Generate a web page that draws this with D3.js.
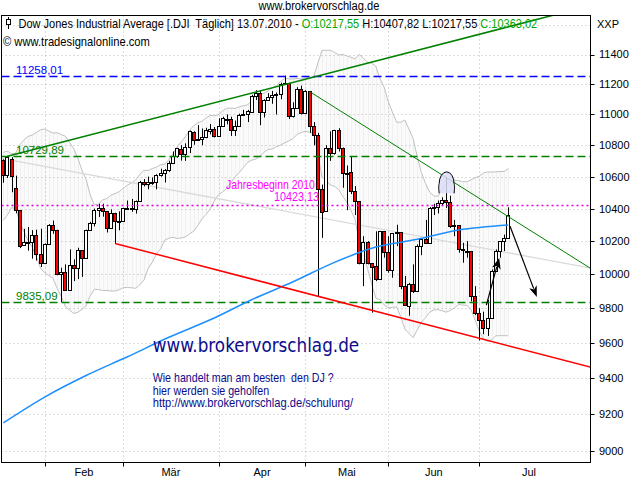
<!DOCTYPE html>
<html><head><meta charset="utf-8">
<script src="https://cdn.jsdelivr.net/npm/d3@7"></script>
<style>
html,body{margin:0;padding:0;background:#fff;}
svg{display:block;font-family:"Liberation Sans",Arial,sans-serif;}
text{white-space:pre;}
</style></head><body>
<svg id="c" width="640" height="480"></svg>
<script>
// ---------------- DATA ----------------
const dates = [
"2010-01-15","2010-01-19","2010-01-20","2010-01-21","2010-01-22","2010-01-25","2010-01-26","2010-01-27","2010-01-28","2010-01-29",
"2010-02-01","2010-02-02","2010-02-03","2010-02-04","2010-02-05","2010-02-08","2010-02-09","2010-02-10","2010-02-11","2010-02-12",
"2010-02-16","2010-02-17","2010-02-18","2010-02-19","2010-02-22","2010-02-23","2010-02-24","2010-02-25","2010-02-26",
"2010-03-01","2010-03-02","2010-03-03","2010-03-04","2010-03-05","2010-03-08","2010-03-09","2010-03-10","2010-03-11","2010-03-12",
"2010-03-15","2010-03-16","2010-03-17","2010-03-18","2010-03-19","2010-03-22","2010-03-23","2010-03-24","2010-03-25","2010-03-26",
"2010-03-29","2010-03-30","2010-03-31",
"2010-04-01","2010-04-05","2010-04-06","2010-04-07","2010-04-08","2010-04-09","2010-04-12","2010-04-13","2010-04-14","2010-04-15",
"2010-04-16","2010-04-19","2010-04-20","2010-04-21","2010-04-22","2010-04-23","2010-04-26","2010-04-27","2010-04-28","2010-04-29","2010-04-30",
"2010-05-03","2010-05-04","2010-05-05","2010-05-06","2010-05-07","2010-05-10","2010-05-11","2010-05-12","2010-05-13","2010-05-14",
"2010-05-17","2010-05-18","2010-05-19","2010-05-20","2010-05-21","2010-05-24","2010-05-25","2010-05-26","2010-05-27","2010-05-28",
"2010-06-01","2010-06-02","2010-06-03","2010-06-04","2010-06-07","2010-06-08","2010-06-09","2010-06-10","2010-06-11",
"2010-06-14","2010-06-15","2010-06-16","2010-06-17","2010-06-18","2010-06-21","2010-06-22","2010-06-23","2010-06-24","2010-06-25",
"2010-06-28","2010-06-29","2010-06-30",
"2010-07-01","2010-07-02","2010-07-06","2010-07-07","2010-07-08","2010-07-09","2010-07-12","2010-07-13"];

const openV = [10706.99,10608.37,10713,10530,10389.58,10175.1,10195.8,10194,10235,10120,
10068,10185,10296,10270,10002,10012,9908,10058,10038,10144,
10099,10268,10309,10393,10402,10383,10282,10374,10321,
10325,10403,10406,10396,10444,10566,10552,10564,10567,10611,
10624,10642,10686,10733,10779,10742,10786,10888,10836,10841,
10850,10895,10907,
10857,10927,10973,10970,10897,10927,10997,11005,11019,11123,
11144,11018,11092,11117,11125,11134,11204,11205,10992,11045,11167,
11009,11152,10926,10868,10520,10386,10785,10748,10897,10783,
10620,10626,10511,10444,10068,10193,10067,10050,9974,10259,
10136,10024,10249,10255,9932,9816,9940,9899,10172,
10211,10191,10404,10409,10434,10451,10442,10293,10298,10152,
10143,10138,9870,
9773,9732,9686,9743,10018,10138,10198,10217.55];

const highV = [10709.94,10729.89,10723.77,10606,10389.58,10275.35,10286.25,10267,10270,10276,
10186,10304,10326,10270,10040,10060,10150,10090,10160,10144,
10270,10318,10400,10430,10430,10385,10395,10374,10383,
10405,10450,10460,10450,10573,10584,10600,10595,10615,10650,
10648,10700,10760,10783,10800,10812,10895,10890,10930,10908,
10913,10937,10918,
10975,10985,11000,10985,10960,11005,11030,11030,11130,11160,
11155,11100,11140,11155,11145,11210,11258.01,11210,11080,11180,11190,
11160,11152,10950,10880,10550,10800,10890,10900,10910,10785,
10670,10730,10540,10444,10230,10200,10067,10260,10260,10260,
10230,10250,10300,10255,9990,9950,10060,10180,10215,
10330,10410,10430,10450,10470,10594.16,10480,10330,10298,10190,
10200,10138,9930,
9800,9780,9850,10030,10150,10200,10240,10407.82];

const lowV = [10561.43,10591.01,10501.64,10371,10157.64,10171,10142.5,10094,10083,10044,
10067,10185,10245,9995,9835.09,9903,9908,9960,9972,9985,
10099,10268,10290,10348,10350,10253,10282,10186,10266,
10325,10396,10380,10369,10444,10538,10520,10548,10520,10600,
10563,10630,10685,10720,10701,10700,10750,10803,10830,10800,
10845,10870,10850,
10857,10920,10935,10860,10860,10925,10995,10950,11018,11095,
10930,10980,11090,11070,11000,11100,11196,10970,10980,11045,11000,
11009,10880,10800,9869.62,10220,10386,10700,10740,10760,10530,
10390,10490,10360,10060,9930,10060,9774.48,9960,9974,10100,
10010,9980,10170,9912,9815,9757,9890,9899,10115,
10190,10191,10360,10370,10420,10404,10280,10230,10130,10070,
10100,9840,9760,
9614.32,9650,9640,9743,10018,10100,10140,10217.55];

const closeV = [10609.65,10725.43,10603.15,10389.88,10172.98,10196.86,10194.29,10236.16,10120.46,10067.33,
10185.53,10296.85,10270.55,10002.18,10012.23,9908.39,10058.64,10038.38,10144.19,10099.14,
10268.81,10309.24,10392.90,10402.35,10383.38,10282.41,10374.16,10321.03,10325.26,
10403.79,10405.98,10396.76,10444.14,10566.20,10552.52,10564.38,10567.33,10611.84,10624.69,
10642.15,10685.98,10733.67,10779.17,10741.98,10785.89,10888.83,10836.15,10841.21,10850.36,
10895.86,10907.42,10856.63,
10927.07,10973.55,10969.99,10897.52,10927.07,10997.35,11005.97,11019.42,11123.11,11144.57,
11018.66,11092.05,11117.06,11124.92,11134.29,11204.28,11205.03,10991.99,11045.27,11167.32,11008.61,
11151.83,10926.77,10868.12,10520.32,10380.43,10785.14,10748.26,10896.91,10782.95,10620.16,
10625.83,10510.95,10444.37,10068.01,10193.39,10066.57,10043.75,9974.45,10258.99,10136.63,
10024.02,10249.54,10255.28,9931.97,9816.49,9939.98,9899.25,10172.53,10211.07,
10190.89,10404.77,10409.46,10434.17,10450.64,10442.41,10293.52,10298.44,10152.80,10143.81,
10138.52,9870.30,9774.02,
9732.53,9686.48,9743.62,10018.28,10138.99,10198.03,10216.27,10363.02];

// closes before the first visible bar (needed for the Bollinger bands)
const priorCloses = [10441.12,10308.26,10328.89,10414.14,10464.93,10466.44,10520.10,10547.08,10545.41,10548.51,
10428.05,10583.96,10572.02,10573.68,10606.86,10618.19,10663.99,10627.26,10680.77,10710.55];

// long moving average (blue)
const maIdx = [0,10,20,30,40,50,60,70,80,90,100,110,122];
const maVal = [9153,9295,9415,9521,9632,9733,9850,9956,10072,10164,10211,10268,10299];

const yTickValues = [9000,9200,9400,9600,9800,10000,10200,10400,10600,10800,11000,11200,11400];
const yGridValues = [9000,9200,9400,9600,9800,10000,10200,10400,10600,10800,11000,11200,11400,11600];
const monthNames = ["Jan","Feb","Mär","Apr","Mai","Jun","Jul"];

const levelValues = [11258.01, 10729.89, 9835.09];
const levelLabels = ["11258,01", "10729,89", "9835,09"];
const levelColors = ["#0000ff", "#008000", "#008000"];
const yearStartValue = 10423.13;

// trend lines: [index, value] anchors
const trendUp      = [[1, 10729.89], [91, 11363]];
const trendDown    = [[74, 11151], [139.3, 10076]];
const trendSupport = [[27, 10186], [141.75, 9463]];
const trendGray    = [[0, 10714], [141.75, 10038]];
const arrowDownPts = [[122.4, 10293], [128.9, 9866]];
const arrowUpPts   = [[116.7, 9819], [119.8, 10098]];
const domeIdx = [105.3, 108.9];
const domeVal = [10630, 10495];

// ---------------- CHART ----------------
const svg = d3.select("#c");
const frame = {l: 1.5, t: 15.5, r: 590.5, b: 462.5};
const x = d3.scaleLinear().domain([0, dates.length - 1]).range([3.3, 508.3]);
const y = d3.scaleLog().domain([9000, 11400]).range([451.2, 54.5]);
const n = dates.length;

svg.append("defs").append("clipPath").attr("id", "plotclip")
  .append("rect").attr("x", frame.l).attr("y", frame.t)
  .attr("width", frame.r - frame.l).attr("height", frame.b - frame.t);
const plot = svg.append("g").attr("clip-path", "url(#plotclip)");

// month boundaries
const monthOf = d => +d.slice(5, 7);
const monthTicks = [];
for (let i = 1; i < n; i++) if (monthOf(dates[i]) !== monthOf(dates[i - 1])) monthTicks.push(i);

// Bollinger bands (20, 2)
const allCloses = priorCloses.concat(closeV);
const P = priorCloses.length;
const bands = d3.range(n).map(i => {
  const w = allCloses.slice(i + P - 19, i + P + 1);
  const m = d3.mean(w);
  const sd = Math.sqrt(d3.mean(w, v => (v - m) * (v - m)));
  return {i, up: m + 2 * sd, lo: m - 2 * sd};
});
plot.append("path").datum(bands)
  .attr("fill", "#fafafa")
  .attr("d", d3.area().x(d => x(d.i)).y0(d => y(d.lo)).y1(d => y(d.up)));
plot.append("g").selectAll("line").data(bands).join("line")
  .attr("x1", d => Math.round(x(d.i)) + 0.5).attr("x2", d => Math.round(x(d.i)) + 0.5)
  .attr("y1", d => y(d.lo)).attr("y2", d => y(d.up))
  .attr("stroke", "#f0f0f0").attr("stroke-width", 1);

// grid
const grid = plot.append("g").attr("stroke", "#b8b8b8").attr("stroke-dasharray", "1,3").attr("stroke-width", 1);
grid.selectAll("line.h").data(yGridValues).join("line")
  .attr("x1", frame.l).attr("x2", frame.r)
  .attr("y1", d => Math.round(y(d)) + 0.5).attr("y2", d => Math.round(y(d)) + 0.5);
grid.selectAll("line.v").data(monthTicks).join("line")
  .attr("y1", frame.t).attr("y2", frame.b)
  .attr("x1", d => Math.round(x(d)) + 0.5).attr("x2", d => Math.round(x(d)) + 0.5);

["up", "lo"].forEach(k => plot.append("path").datum(bands)
  .attr("fill", "none").attr("stroke", "#c0c0c0").attr("stroke-width", 1)
  .attr("d", d3.line().x(d => x(d.i)).y(d => y(d[k]))));

// helper: line through two anchors, extended
function extLine(anchors, extendLeft) {
  const [a, b] = anchors;
  const p1 = [x(a[0]), y(a[1])], p2 = [x(b[0]), y(b[1])];
  const s = (p2[1] - p1[1]) / (p2[0] - p1[0]);
  const xs = extendLeft ? frame.l : p1[0];
  const xe = frame.r + 5;
  return [[xs, p1[1] + s * (xs - p1[0])], [xe, p1[1] + s * (xe - p1[0])]];
}
const lineGen = d3.line();

// gray trend line
plot.append("path").attr("d", lineGen(extLine(trendGray, true)))
  .attr("stroke", "#dadada").attr("stroke-width", 1.3).attr("fill", "none");

// candles
const cg = plot.append("g");
const idx = d3.range(n);
cg.selectAll("line.w").data(idx).join("line")
  .attr("x1", i => Math.round(x(i)) + 0.5).attr("x2", i => Math.round(x(i)) + 0.5)
  .attr("y1", i => y(highV[i])).attr("y2", i => y(lowV[i]))
  .attr("stroke", "#000").attr("stroke-width", 1);
cg.selectAll("rect").data(idx).join("rect")
  .attr("x", i => Math.round(x(i)) - 1.5).attr("width", 3)
  .attr("y", i => Math.round(y(Math.max(openV[i], closeV[i]))) + 0.5)
  .attr("height", i => Math.max(1, Math.round(y(Math.min(openV[i], closeV[i]))) - Math.round(y(Math.max(openV[i], closeV[i])))))
  .attr("fill", i => closeV[i] >= openV[i] ? "#ffffff" : "#ff0000")
  .attr("stroke", "#000").attr("stroke-width", 1);

// horizontal level lines
levelValues.forEach((v, k) => {
  plot.append("line").attr("x1", frame.l).attr("x2", frame.r)
    .attr("y1", Math.round(y(v)) + 0.5).attr("y2", Math.round(y(v)) + 0.5)
    .attr("stroke", levelColors[k]).attr("stroke-width", 1.5).attr("stroke-dasharray", "8,4");
});
plot.append("line").attr("x1", frame.l).attr("x2", frame.r)
  .attr("y1", Math.round(y(yearStartValue)) + 0.5).attr("y2", Math.round(y(yearStartValue)) + 0.5)
  .attr("stroke", "#e000e0").attr("stroke-width", 1.3).attr("stroke-dasharray", "2,3");

// blue moving average
plot.append("path").datum(maIdx.map((d, k) => [x(d), y(maVal[k])]))
  .attr("fill", "none").attr("stroke", "#1e8fff").attr("stroke-width", 1.5)
  .attr("d", d3.line().curve(d3.curveMonotoneX));

// trend lines
plot.append("path").attr("d", lineGen(extLine(trendUp, false)))
  .attr("stroke", "#008000").attr("stroke-width", 1.5).attr("fill", "none");
plot.append("path").attr("d", lineGen(extLine(trendDown, false)))
  .attr("stroke", "#008000").attr("stroke-width", 1).attr("fill", "none");
plot.append("path").attr("d", lineGen(extLine(trendSupport, false)))
  .attr("stroke", "#ff0000").attr("stroke-width", 1.5).attr("fill", "none");

// dome marker
{
  const x0 = x(domeIdx[0]), x1 = x(domeIdx[1]);
  const yT = y(domeVal[0]), yB = y(domeVal[1]);
  const rx = (x1 - x0) / 2, ry = (yB - yT) * 0.55;
  const cy = yT + ry;
  plot.append("path")
    .attr("d", `M${x0},${yB} C${x0 - 1},${cy + 2} ${x0},${cy} ${x0},${cy} A${rx},${ry} 0 0 1 ${x1},${cy} C${x1},${cy} ${x1 + 1},${cy + 2} ${x1},${yB}`)
    .attr("fill", "#dcdcf6").attr("fill-opacity", 0.85).attr("stroke", "#000").attr("stroke-width", 1);
}

// arrows
function arrow(pts, headLen, headW) {
  const p1 = [x(pts[0][0]), y(pts[0][1])], p2 = [x(pts[1][0]), y(pts[1][1])];
  const dx = p2[0] - p1[0], dy = p2[1] - p1[1], L = Math.hypot(dx, dy);
  const ux = dx / L, uy = dy / L;
  const bx = p2[0] - ux * headLen, by = p2[1] - uy * headLen;
  plot.append("line").attr("x1", p1[0]).attr("y1", p1[1]).attr("x2", bx + ux * 2).attr("y2", by + uy * 2)
    .attr("stroke", "#000").attr("stroke-width", 1.2);
  plot.append("path")
    .attr("d", `M${p2[0]},${p2[1]} L${bx - uy * headW},${by + ux * headW} L${bx + ux * 3},${by + uy * 3} L${bx + uy * headW},${by - ux * headW} Z`)
    .attr("fill", "#000");
}
arrow(arrowDownPts, 11, 4);
arrow(arrowUpPts, 11, 4.5);

// ---------------- TEXT ----------------
function fitText(str, px, py, width, opts = {}) {
  const g = svg.append("g");
  const t = g.append("text").attr("x", 0).attr("y", 0)
    .attr("font-size", opts.size || 11).attr("fill", opts.color || "#000")
    .attr("font-family", opts.family || null);
  if (Array.isArray(str)) {
    str.forEach(s => t.append("tspan").attr("fill", s.c).text(s.t));
  } else t.text(str);
  const w = t.node().getComputedTextLength();
  const sx = width / w;
  let ox = px;
  if (opts.anchor === "middle") ox = px - width / 2;
  if (opts.anchor === "end") ox = px - width;
  g.attr("transform", `translate(${ox},${py}) scale(${sx},1)`);
  return g;
}

// top title
fitText("www.brokervorschlag.de", 319, 10, 121, {anchor: "middle", size: 12});
// header
const hdrGreen = "#00a800";
fitText([
  {t: "Dow Jones Industrial Average [.DJI  Täglich] 13.07.2010 - ", c: "#000"},
  {t: "O:10217,55", c: hdrGreen},
  {t: " H:10407,82 L:10217,55 ", c: "#000"},
  {t: "C:10363,02", c: hdrGreen}
], 18.5, 27.5, 519.5, {size: 12});
fitText("© www.tradesignalonline.com", 3, 46, 147, {size: 12});
svg.append("text").attr("x", 597).attr("y", 27.5).attr("font-size", 11).text("XXP");

// candle icon
svg.append("line").attr("x1", 8.5).attr("x2", 8.5).attr("y1", 17).attr("y2", 29).attr("stroke", "#000");
svg.append("rect").attr("x", 6.5).attr("y", 19.5).attr("width", 4).attr("height", 5).attr("fill", "#fff").attr("stroke", "#000");

// level labels
levelValues.forEach((v, k) => {
  svg.append("text").attr("x", frame.l + 14.5).attr("y", y(v) - 2)
    .attr("font-size", 11.5).attr("fill", levelColors[k]).text(levelLabels[k]);
});
// year-start labels
fitText("Jahresbeginn 2010", x(53.8), y(yearStartValue) - 15.5, 89, {size: 12, color: "#ff00ff"});
fitText("10423,13", x(65.4), y(yearStartValue) - 3.5, 45, {size: 12, color: "#ff00ff"});

// promo texts
const navy = "#0c0c8c";
fitText("www.brokervorschlag.de", 152.7, 352, 206.6, {size: 20, color: navy, family: "DejaVu Sans, sans-serif"});
fitText("Wie handelt man am besten  den DJ ?", 152.7, 382, 181.3, {size: 12, color: navy});
fitText("hier werden sie geholfen", 152.7, 394.5, 116.6, {size: 12, color: navy});
fitText("http://www.brokervorschlag.de/schulung/", 152.7, 407, 200.6, {size: 12, color: navy});

// y axis
const ya = svg.append("g");
ya.selectAll("line").data(yTickValues).join("line")
  .attr("x1", frame.r).attr("x2", frame.r + 4)
  .attr("y1", d => Math.round(y(d)) + 0.5).attr("y2", d => Math.round(y(d)) + 0.5)
  .attr("stroke", "#000");
ya.selectAll("text").data(yTickValues).join("text")
  .attr("x", frame.r + 8.5).attr("y", d => y(d)).attr("dy", "0.36em")
  .attr("font-size", 11).text(d => d);

// x axis
const xa = svg.append("g");
xa.selectAll("line").data(monthTicks).join("line")
  .attr("x1", d => Math.round(x(d)) + 0.5).attr("x2", d => Math.round(x(d)) + 0.5)
  .attr("y1", frame.b).attr("y2", frame.b + 4).attr("stroke", "#000");
const labelPos = monthTicks.map((t, k) => k < monthTicks.length - 1 ? (x(t) + x(monthTicks[k + 1])) / 2 : x(t + 12));
xa.selectAll("text").data(monthTicks).join("text")
  .attr("x", (d, k) => labelPos[k]).attr("y", 476).attr("text-anchor", "middle")
  .attr("font-size", 11).text(d => monthNames[monthOf(dates[d]) - 1]);

// frame
svg.append("rect").attr("x", frame.l).attr("y", frame.t)
  .attr("width", frame.r - frame.l).attr("height", frame.b - frame.t)
  .attr("fill", "none").attr("stroke", "#000").attr("stroke-width", 1);
</script>
</body></html>
